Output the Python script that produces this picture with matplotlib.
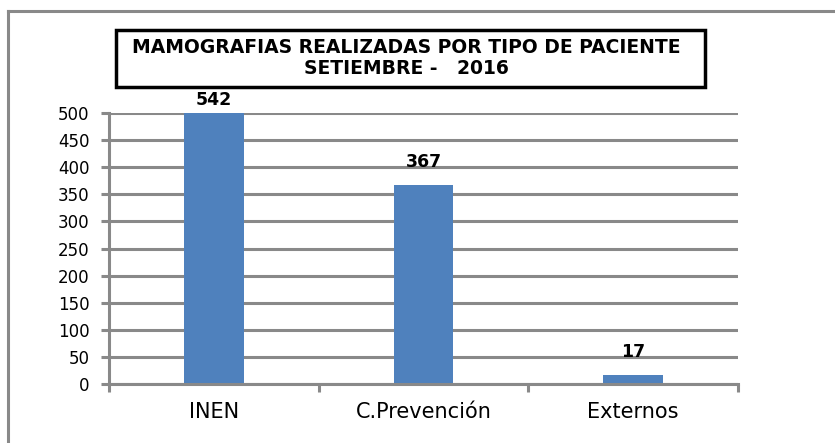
import numpy as np
import matplotlib
matplotlib.use('Agg')
import matplotlib.pyplot as plt
from matplotlib.patches import Rectangle
from matplotlib.lines import Line2D

# %% Datos
categorias = ['INEN', 'C.Prevención', 'Externos']
valores = [542, 367, 17]
ticks_y = [0, 50, 100, 150, 200, 250, 300, 350, 400, 450, 500]

plt.rcParams['font.family'] = ['DejaVu Sans']
gris = '#898989'
azul = '#4F81BD'

fig = plt.figure(figsize=(8.35, 4.43), dpi=100)
W, H = 835, 443

# marco exterior (solo izquierda y arriba visibles)
fig.add_artist(Line2D([8 / W, 8 / W], [0, 1 - 11 / H], color=gris, lw=2.2, transform=fig.transFigure))
fig.add_artist(Line2D([8 / W, 1], [1 - 11 / H, 1 - 11 / H], color=gris, lw=2.2, transform=fig.transFigure))

ax = fig.add_axes([109 / W, (H - 384) / H, (738 - 109) / W, (384 - 113) / H])
x = np.arange(len(categorias))
ax.bar(x, valores, width=0.286, color=azul, zorder=3)
ax.set_xlim(-0.5, len(categorias) - 0.5)
ax.set_ylim(0, 500)
ax.set_yticks(ticks_y)
ax.tick_params(axis='y', labelsize=12, length=6, width=2.2, color=gris, pad=8)
ax.set_xticks(x)
ax.set_xticklabels(categorias, fontsize=15)
ax.tick_params(axis='x', length=0, pad=13)
ax.set_xticks(np.arange(len(categorias) + 1) - 0.5, minor=True)
ax.tick_params(axis='x', which='minor', length=6, width=2.2, color=gris)
ax.yaxis.grid(True, color=gris, lw=2.2, zorder=0)
for s in ['top', 'right']:
    ax.spines[s].set_visible(False)
for s in ['left', 'bottom']:
    ax.spines[s].set_color(gris)
    ax.spines[s].set_linewidth(2.2)
ax.spines['bottom'].set_zorder(4)

for xi, v in zip(x, valores):
    ax.annotate(str(v), (xi, min(v, 500)), xytext=(0, 9.5 if v > 500 else 16.5),
                textcoords='offset points', ha='center', va='center',
                fontsize=12.5, fontweight='bold')

# caja del titulo
fig.add_artist(Rectangle((116 / W, 1 - 87 / H), (705 - 116) / W, (87 - 30) / H,
                         transform=fig.transFigure, facecolor='white',
                         edgecolor='black', lw=2.5))
fig.text(406 / W, 1 - 58 / H, 'MAMOGRAFIAS REALIZADAS POR TIPO DE PACIENTE\nSETIEMBRE -   2016',
         ha='center', va='center', fontsize=13.5, fontweight='bold', linespacing=1.1)

fig.savefig('out.png', dpi=100)
